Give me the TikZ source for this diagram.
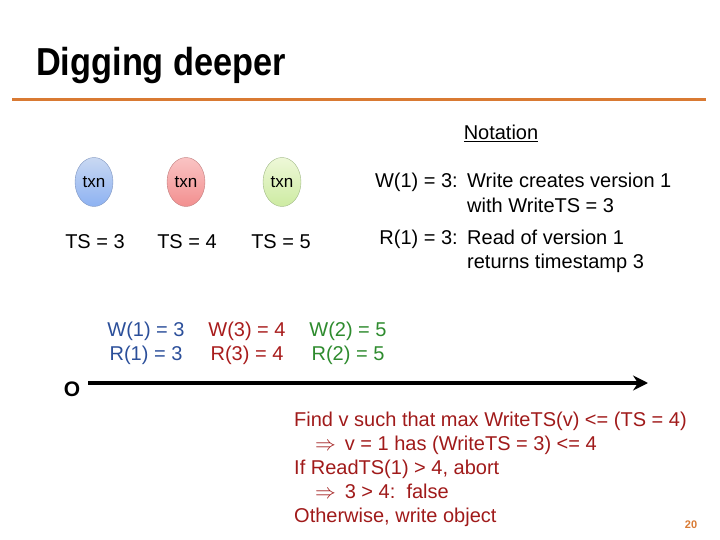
\documentclass[tikz,border=0pt]{standalone}
\usepackage{fontspec}
\setmainfont{Liberation Sans}
\usepackage{xcolor}
\usepackage{tikz}
\usetikzlibrary{positioning, arrows.meta, shapes.geometric}
\definecolor{slideorange}{HTML}{D97A33}
\definecolor{txnblue}{HTML}{2B4F9A}
\definecolor{txnred}{HTML}{A81C1C}
\definecolor{txngreen}{HTML}{2E8B2E}
\definecolor{notered}{HTML}{A01A1A}
\definecolor{bluetop}{HTML}{C9D8F2}
\definecolor{bluebot}{HTML}{8DB2F2}
\definecolor{blueline}{HTML}{7F95BF}
\definecolor{redtop}{HTML}{FAC4C4}
\definecolor{redbot}{HTML}{F28F8F}
\definecolor{redline}{HTML}{C07C7C}
\definecolor{greentop}{HTML}{EEF8D8}
\definecolor{greenbot}{HTML}{CDEBA2}
\definecolor{greenline}{HTML}{9FB885}

\begin{document}
\begin{tikzpicture}[
    x=1pt, y=-1pt,
    txn/.style={ellipse, draw=#1line, top color=#1top, bottom color=#1bot,
                minimum width=38pt, minimum height=49pt, inner sep=0pt,
                font=\fontsize{17}{20}\selectfont},
    txt/.style={inner sep=0pt, font=\fontsize{20}{24}\selectfont},
    ts/.style={txt, anchor=base},
    note/.style={txt, anchor=base west, text=notered},
    arr/.style={-{Stealth[length=15pt, width=15pt, inset=5pt]}, line width=4pt},
]
\useasboundingbox (0,0) rectangle (720,540);
% title and rule
\node[anchor=base west, inner sep=0pt] (title) at (36,76)
  {\scalebox{0.88}[1]{\fontsize{39}{44}\selectfont\bfseries Digging deeper}};
\draw[slideorange, line width=3pt] (12,100) -- (706,100);
% transactions
\node[txn=blue] (txnA) at (94,182) {txn};
\node[txn=red] (txnB) at (186,182) {txn};
\node[txn=green] (txnC) at (282,182) {txn};
\node[ts] (tsA) at (95,248) {TS = 3};
\node[ts] (tsB) at (187,248) {TS = 4};
\node[ts] (tsC) at (281,248) {TS = 5};
% notation
\node[ts] (notation) at (501,140) {\underline{Notation}};
\node[txt, anchor=base east] (wlabel) at (458,188) {W(1) = 3:};
\node[txt, anchor=base west] (wdesc) at (467,188) {Write creates version 1};
\node[txt, anchor=base west] (wdesc2) at (467,212) {with WriteTS = 3};
\node[txt, anchor=base east] (rlabel) at (458,244) {R(1) = 3:};
\node[txt, anchor=base west] (rdesc) at (467,244) {Read of version 1};
\node[txt, anchor=base west] (rdesc2) at (467,268) {returns timestamp 3};
% versions on the time line
\node[ts, text=txnblue] (wA) at (146,336) {W(1) = 3};
\node[ts, text=txnblue] (rA) at (146,360) {R(1) = 3};
\node[ts, text=txnred] (wB) at (247,336) {W(3) = 4};
\node[ts, text=txnred] (rB) at (247,360) {R(3) = 4};
\node[ts, text=txngreen] (wC) at (348,336) {W(2) = 5};
\node[ts, text=txngreen] (rC) at (348,360) {R(2) = 5};
\node[txt, font=\fontsize{21}{24}\selectfont\bfseries] (origin) at (72,389) {O};
\coordinate (tstart) at (88,383);
\coordinate (tend) at (648,383);
\draw[arr] (tstart) -- (tend);
% the check for TS = 4
\node[note] (line1) at (294,426) {Find v such that max WriteTS(v) <= (TS = 4)};
\node[note] (line2) at (315,450) {$\Rightarrow$\, v = 1 has (WriteTS = 3) <= 4};
\node[note] (line3) at (294,474) {If ReadTS(1) > 4, abort};
\node[note] (line4) at (315,498) {$\Rightarrow$\, 3 > 4:\ \ false};
\node[note] (line5) at (294,522) {Otherwise, write object};
\node[anchor=base, inner sep=0pt, text=slideorange, font=\fontsize{11}{13}\selectfont\bfseries]
  (pagenum) at (691,528) {20};
\end{tikzpicture}
\end{document}
